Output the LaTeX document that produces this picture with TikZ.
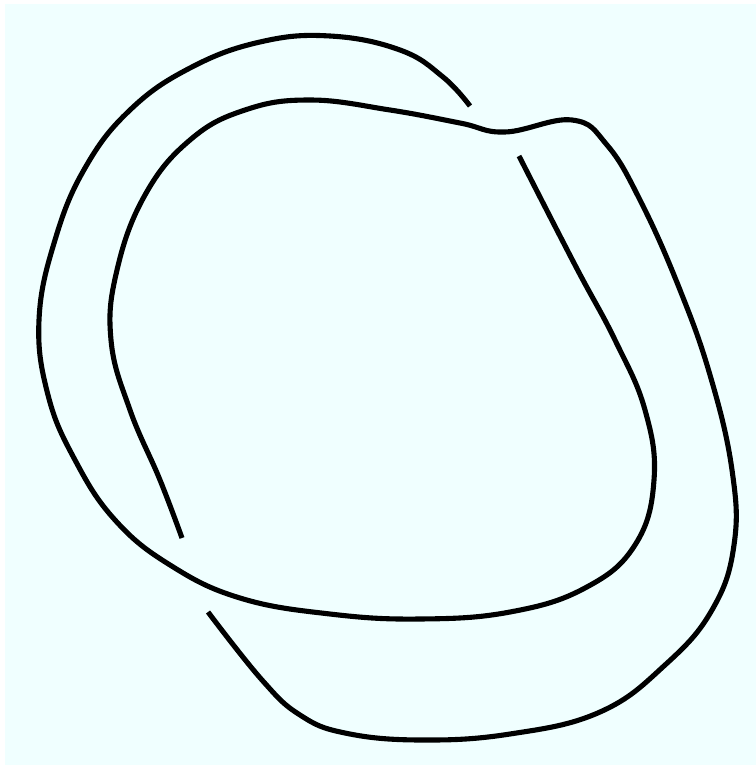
\documentclass[tikz,border=0pt]{standalone}
\usepackage{xcolor}
\usepackage{tikz}
\definecolor{bgazure}{HTML}{F0FFFF}
\tikzstyle{strand} = [line width=2.9pt, draw=black, smooth, tension=0.7]
\tikzstyle{backdrop} = [fill=bgazure, draw=none]

\begin{document}
\begin{tikzpicture}[x=0.02cm, y=-0.02cm]
    \useasboundingbox (0,0) rectangle (756,767);
    \fill[white] (0,0) rectangle (756,767);
    \fill[backdrop] (5,4) rectangle (756,765);

    % over-arc from the top crossing round the left to the right side
    \draw [strand] plot coordinates {(470,106) (443,77) (400,50) (330,36) (260,42) (190,68) (130,110) (85,168) (55,240) (39,320) (48,395) (75,460) (115,520) (170,565) (240,598) (330,614) (420,619) (510,612) (585,588) (635,545) (654,480) (645,410) (615,340) (575,265) (519,156)};

    % inner arc, over the top, down the right and round the bottom
    \draw [strand] plot coordinates {(182,538) (160,480) (130,410) (111,340) (117,270) (145,195) (190,140) (245,110) (310,100) (390,110) (460,123) (505,132) (572,120) (607,145) (640,200) (678,285) (710,375) (732,470) (734,545) (712,610) (665,665) (600,712) (510,734) (420,740) (345,733) (300,715) (262,680) (208,612)};
\end{tikzpicture}
\end{document}
